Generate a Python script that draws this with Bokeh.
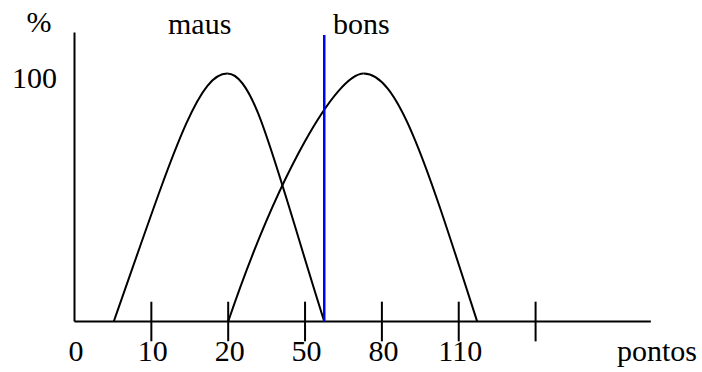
from bokeh.plotting import figure
from bokeh.models import Range1d
from bokeh.core.properties import value
from bokeh.embed import file_html
from bokeh.resources import INLINE

# Score axis: evenly spaced tick slots, labelled with the score they stand for
tick_pos = [0, 1, 2, 3, 4, 5, 6]
tick_labels = ["0", "10", "20", "50", "80", "110", ""]

# Membership curves (% vs. score slot), each hump as two cubic Bezier pieces:
# start, first control, second control, end
maus_x0 = [0.511, 1.987]
maus_y0 = [0, 100]
maus_cx0 = [1.292, 2.345]
maus_cy0 = [69.0, 100]
maus_cx1 = [1.606, 2.593]
maus_cy1 = [100, 64.5]
maus_x1 = [1.987, 3.25]
maus_y1 = [100, 0]

bons_x0 = [2.0, 3.764]
bons_y0 = [0, 100]
bons_cx0 = [2.658, 4.217]
bons_cy0 = [59.9, 100]
bons_cx1 = [3.409, 4.589]
bons_cy1 = [100, 62.5]
bons_x1 = [3.764, 5.24]
bons_y1 = [100, 0]

# Cut-off score between the two classes
cutoff_x = 3.25
cutoff_top = 115.5

# Extent of the drawn axes
x_axis_end = 7.5
y_axis_end = 116.5
y_max_label = 100

FONT = value("Liberation Serif")
FS = "30px"
TXT = dict(text_font=FONT, text_font_size=FS, text_baseline="alphabetic",
           text_color="black", y_offset=-12)

p = figure(width=702, height=372, output_backend="svg", toolbar_location=None,
           x_range=Range1d(-0.963, 8.172), y_range=Range1d(-20.56, 129.44),
           x_axis_location=None, y_axis_location=None, min_border=0)
p.outline_line_color = None
p.grid.visible = False
p.background_fill_color = "white"

# hand-drawn style axes
p.segment(x0=[0], y0=[0], x1=[x_axis_end], y1=[0], line_color="black", line_width=2)
p.segment(x0=[0], y0=[0], x1=[0], y1=[y_axis_end], line_color="black", line_width=2)

# tick marks crossing the score axis (skip the origin)
tx = [t for t in tick_pos if t != 0]
p.segment(x0=tx, y0=[-8] * len(tx), x1=tx, y1=[8] * len(tx),
          line_color="black", line_width=2)

# tick labels
p.text(x=tick_pos, y=[-16.8] * len(tick_pos), text=tick_labels,
       text_align="center", x_offset=1.5, **TXT)

# curves
p.bezier(x0=maus_x0, y0=maus_y0, x1=maus_x1, y1=maus_y1,
         cx0=maus_cx0, cy0=maus_cy0, cx1=maus_cx1, cy1=maus_cy1,
         line_color="black", line_width=2)
p.bezier(x0=bons_x0, y0=bons_y0, x1=bons_x1, y1=bons_y1,
         cx0=bons_cx0, cy0=bons_cy0, cx1=bons_cx1, cy1=bons_cy1,
         line_color="black", line_width=2)

# cut-off line
p.segment(x0=[cutoff_x], y0=[0], x1=[cutoff_x], y1=[cutoff_top],
          line_color="#0000ff", line_width=2.5)

# annotations
p.text(x=[-0.462], y=[116.3], text=["%"], text_align="center", **TXT)
p.text(x=[-0.52], y=[y_max_label - 6.9], text=[str(y_max_label)],
       text_align="center", **TXT)
p.text(x=[1.217, 3.364], y=[115.3, 115.3], text=["maus", "bons"],
       text_align="left", **TXT)
p.text(x=[7.058], y=[-16.6], text=["pontos"], text_align="left", **TXT)

open("out.html", "w").write(file_html(p, INLINE))
